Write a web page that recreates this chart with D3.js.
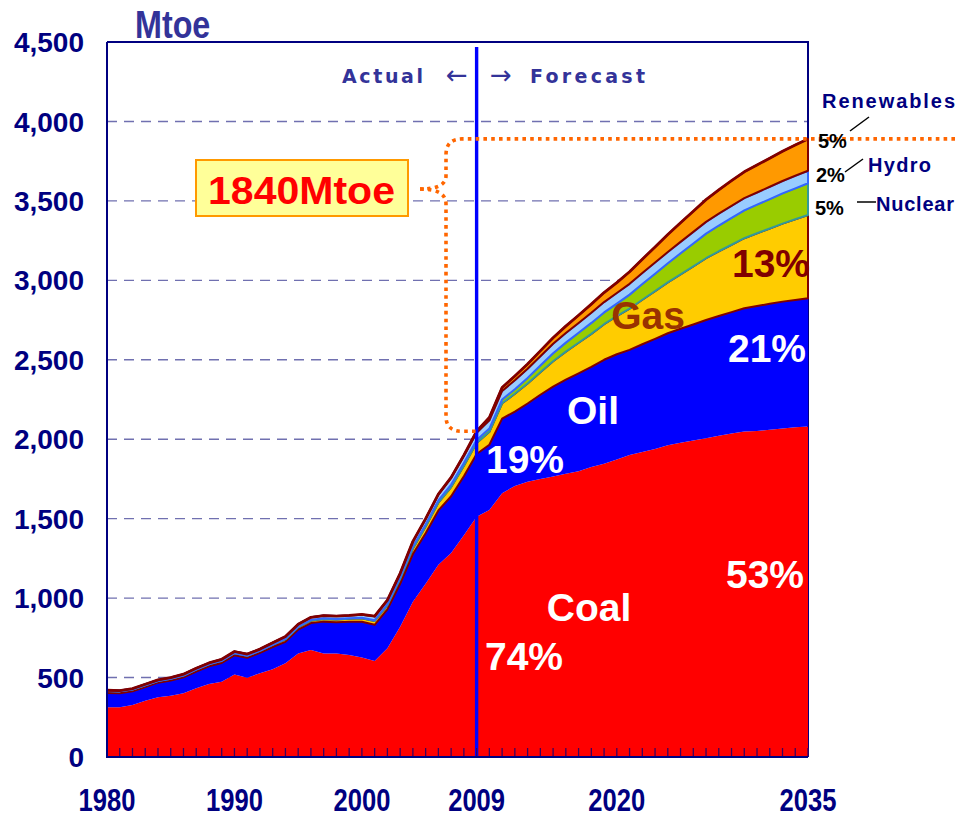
<!DOCTYPE html>
<html>
<head>
<meta charset="utf-8">
<script src="https://cdn.jsdelivr.net/npm/d3@7"></script>
<style>
  body { margin: 0; background: #ffffff; }
  svg { display: block; }
</style>
</head>
<body>
<svg id="chart" width="955" height="817"></svg>
<script>
// Primary energy demand by fuel, Mtoe (actual to 2009, projection to 2035)
const years = d3.range(1980, 2036);

const coal = [
  313, 313, 327, 354, 376, 386, 401, 432, 459, 474,
  520, 499, 527, 552, 590, 652, 673, 652, 652, 642,
  627, 604, 684, 820, 977, 1090, 1210, 1284, 1395, 1512,
  1555, 1660, 1706, 1733, 1750, 1766, 1782, 1798, 1825, 1845,
  1872, 1900, 1920, 1938, 1962, 1978, 1992, 2006, 2022, 2036,
  2048, 2052, 2060, 2068, 2075, 2080
];
const oil = [
  90, 88, 86, 87, 92, 95, 100, 106, 112, 118,
  120, 125, 128, 140, 135, 150, 170, 200, 196, 210,
  224, 228, 245, 270, 300, 318, 342, 357, 372, 395,
  410, 470, 468, 492, 530, 565, 593, 617, 630, 655,
  663, 662, 678, 694, 705, 717, 730, 744, 754, 764,
  776, 786, 792, 798, 801, 807
];
const gas = [
  12, 12, 11, 10, 10, 11, 12, 12, 12, 13,
  13, 13, 13, 14, 15, 15, 16, 17, 17, 18,
  22, 24, 26, 30, 35, 42, 49, 58, 66, 70,
  82, 96, 112, 126, 142, 160, 176, 192, 208, 224,
  240, 260, 280, 300, 320, 343, 366, 389, 407, 424,
  441, 458, 474, 491, 508, 524
];
const nuclear = [
  0, 0, 0, 0, 0, 0, 0, 0, 0, 0,
  0, 0, 0, 0, 4, 3, 4, 4, 4, 4,
  4, 5, 7, 11, 13, 14, 14, 16, 18, 18,
  20, 24, 29, 35, 42, 50, 57, 63, 69, 74,
  78, 88, 99, 110, 120, 132, 144, 155, 162, 169,
  175, 180, 185, 190, 195, 200
];
const hydro = [
  5, 5, 6, 7, 7, 8, 8, 9, 9, 10,
  11, 11, 11, 13, 14, 16, 16, 17, 18, 17,
  19, 24, 25, 24, 30, 34, 37, 41, 43, 45,
  52, 54, 56, 57, 58, 60, 61, 62, 64, 65,
  67, 68, 69, 70, 71, 72, 73, 74, 75, 76,
  77, 77, 78, 78, 79, 79
];
const renewables = [
  0, 0, 0, 0, 0, 0, 0, 0, 0, 0,
  0, 0, 0, 0, 0, 0, 0, 0, 0, 0,
  1, 1, 1, 1, 2, 2, 3, 4, 6, 10,
  18, 22, 27, 30, 34, 38, 43, 48, 54, 60,
  66, 76, 87, 98, 110, 120, 130, 140, 149, 158,
  166, 173, 180, 187, 194, 200
];

const fuelKeys = ["Coal", "Oil", "Gas", "Nuclear", "Hydro", "Renewables"];
const fuelSeries = { Coal: coal, Oil: oil, Gas: gas, Nuclear: nuclear, Hydro: hydro, Renewables: renewables };
const fuelFill = { Coal: "#ff0000", Oil: "#0000ff", Gas: "#ffcc00", Nuclear: "#99cc00", Hydro: "#99ccff", Renewables: "#ff9900" };
const fuelEdge = { Coal: null, Oil: null, Gas: "#800000", Nuclear: "#339999", Hydro: "#3366ff", Renewables: "#800000" };

const yTicks = [0, 500, 1000, 1500, 2000, 2500, 3000, 3500, 4000, 4500];
const xLabelYears = [1980, 1990, 2000, 2009, 2020, 2035];
const splitYear = 2009;
const endYear = 2035;

const rows = years.map((yr, i) => {
  const r = { year: yr };
  fuelKeys.forEach(k => { r[k] = fuelSeries[k][i]; });
  return r;
});

const svg = d3.select("#chart");
const x = d3.scaleLinear().domain([1980, 2035]).range([107, 808]);
const y = d3.scaleLinear().domain([0, 4500]).range([757, 42]);
const navy = "#000080";

// dashed grid
svg.append("g").selectAll("line")
  .data(yTicks.filter(v => v > 0 && v < 4500))
  .join("line")
  .attr("x1", x(1980)).attr("x2", x(2035))
  .attr("y1", d => y(d)).attr("y2", d => y(d))
  .attr("stroke", "#7070b0").attr("stroke-width", 1.4)
  .attr("stroke-dasharray", "10,7");

// frame: top and right edges
svg.append("path")
  .attr("d", `M${x(1980)},${y(4500)} H${x(2035)} V${y(0)}`)
  .attr("fill", "none").attr("stroke", navy).attr("stroke-width", 2);

// stacked areas
const stack = d3.stack().keys(fuelKeys);
const layers = stack(rows);
const area = d3.area()
  .x(d => x(d.data.year))
  .y0(d => y(d[0]))
  .y1(d => y(d[1]));

svg.append("g").selectAll("path")
  .data(layers)
  .join("path")
  .attr("d", area)
  .attr("fill", d => fuelFill[d.key])
  .attr("stroke", d => fuelEdge[d.key] || "none")
  .attr("stroke-width", d => fuelEdge[d.key] ? 2 : 0)
  .attr("stroke-linejoin", "round");

// total line on top
const totals = rows.map(r => fuelKeys.reduce((s, k) => s + r[k], 0));
svg.append("path")
  .datum(rows.map((r, i) => ({ year: r.year, v: totals[i] })))
  .attr("d", d3.line().x(d => x(d.year)).y(d => y(d.v)))
  .attr("fill", "none").attr("stroke", "#800000").attr("stroke-width", 2.8)
  .attr("stroke-linejoin", "round");

// actual / forecast divider
svg.append("line")
  .attr("x1", x(splitYear)).attr("x2", x(splitYear))
  .attr("y1", 47).attr("y2", y(0))
  .attr("stroke", "#0000ff").attr("stroke-width", 3.4);

// growth brace from 2009 total to 2035 total
const tSplit = totals[years.indexOf(splitYear)];
const tEnd = totals[years.indexOf(endYear)];
const yTop = y(tEnd), yBot = y(tSplit);
const bx = 446, tipX = 420, tipY = 189;
const orange = "#ff6600";
svg.append("path")
  .attr("d", `M955,${yTop} H${bx + 16} Q${bx},${yTop} ${bx},${yTop + 16} V${tipY - 13} Q${bx},${tipY} ${tipX},${tipY}`)
  .attr("fill", "none").attr("stroke", orange).attr("stroke-width", 3.6)
  .attr("stroke-dasharray", "3.6,4.2");
svg.append("path")
  .attr("d", `M${tipX},${tipY} Q${bx},${tipY} ${bx},${tipY + 15} V${yBot - 15} Q${bx},${yBot} ${bx + 16},${yBot} H${x(splitYear) + 2}`)
  .attr("fill", "none").attr("stroke", orange).attr("stroke-width", 3.6)
  .attr("stroke-dasharray", "3.6,4.2");

// growth callout box
svg.append("rect")
  .attr("x", 196).attr("y", 160).attr("width", 212).attr("height", 56)
  .attr("fill", "#ffff99").attr("stroke", "#ff9900").attr("stroke-width", 2);
svg.append("text")
  .attr("x", 208).attr("y", 204)
  .attr("textLength", 187).attr("lengthAdjust", "spacingAndGlyphs")
  .attr("font-family", "Liberation Sans, Arial, sans-serif")
  .attr("font-weight", "bold").attr("font-size", 39)
  .attr("fill", "#ff0000")
  .text(`${Math.round(tEnd - tSplit)}Mtoe`);

// year ticks along the base
svg.append("g").selectAll("line")
  .data(years)
  .join("line")
  .attr("x1", d => x(d)).attr("x2", d => x(d))
  .attr("y1", y(0)).attr("y2", y(0) - 9)
  .attr("stroke", "#3a0060").attr("stroke-width", 1.3);

// left and bottom axis lines
svg.append("path")
  .attr("d", `M${x(1980)},${y(4500)} V${y(0)} H${x(2035)}`)
  .attr("fill", "none").attr("stroke", navy).attr("stroke-width", 2);

// y tick labels
svg.append("g").selectAll("text")
  .data(yTicks)
  .join("text")
  .attr("x", 84).attr("y", d => y(d))
  .attr("dy", "0.36em")
  .attr("text-anchor", "end")
  .attr("font-family", "Liberation Sans, Arial, sans-serif")
  .attr("font-weight", "bold").attr("font-size", 28)
  .attr("fill", navy)
  .text(d => d3.format(",")(d));

// x tick labels (condensed)
svg.append("g").selectAll("text")
  .data(xLabelYears)
  .join("text")
  .attr("transform", d => `translate(${x(d)},811) scale(0.8,1)`)
  .attr("text-anchor", "middle")
  .attr("font-family", "Liberation Sans, Arial, sans-serif")
  .attr("font-weight", "bold").attr("font-size", 32)
  .attr("fill", navy)
  .text(d => d);

// unit
svg.append("text")
  .attr("transform", "translate(135,38) scale(0.85,1)")
  .attr("font-family", "Liberation Sans, Arial, sans-serif")
  .attr("font-weight", "bold").attr("font-size", 38)
  .attr("fill", "#333399")
  .text("Mtoe");

// actual / forecast caption
const capStyle = sel => sel
  .attr("font-family", "DejaVu Sans, sans-serif")
  .attr("font-weight", "bold").attr("font-size", 19)
  .attr("fill", "#333399");
svg.append("text").call(capStyle)
  .attr("x", 342).attr("y", 83)
  .attr("textLength", 81).attr("lengthAdjust", "spacing")
  .text("Actual");
svg.append("text").call(capStyle)
  .attr("x", 457).attr("y", 84).attr("text-anchor", "middle")
  .attr("font-size", 26).attr("font-weight", "normal")
  .text("←");
svg.append("text").call(capStyle)
  .attr("x", 501).attr("y", 84).attr("text-anchor", "middle")
  .attr("font-size", 26).attr("font-weight", "normal")
  .text("→");
svg.append("text").call(capStyle)
  .attr("x", 530).attr("y", 83)
  .attr("textLength", 115).attr("lengthAdjust", "spacing")
  .text("Forecast");

// shares
const iS = years.indexOf(splitYear), iE = years.indexOf(endYear);
const pct = (k, i) => `${Math.round(fuelSeries[k][i] / totals[i] * 100)}%`;
const big = (txt, px, py, color, size) => svg.append("text")
  .attr("x", px).attr("y", py)
  .attr("text-anchor", "middle")
  .attr("font-family", "Liberation Sans, Arial, sans-serif")
  .attr("font-weight", "bold").attr("font-size", size || 39)
  .attr("fill", color)
  .text(txt);

big("Coal", 589, 621, "#ffffff");
big(pct("Coal", iS), 524, 670, "#ffffff");
big(pct("Coal", iE), 765, 588, "#ffffff");
big("Oil", 593, 424, "#ffffff");
big(pct("Oil", iS), 525, 473, "#ffffff");
big(pct("Oil", iE), 767, 362, "#ffffff");
big("Gas", 648, 329, "#993300");
big(pct("Gas", iE), 771, 277, "#800000");

// right-hand labels for the smaller fuels
const small = (txt, px, py, color, len) => {
  const t = svg.append("text")
    .attr("x", px).attr("y", py)
    .attr("font-family", "Liberation Sans, Arial, sans-serif")
    .attr("font-weight", "bold").attr("font-size", 20)
    .attr("fill", color)
    .text(txt);
  if (len) t.attr("textLength", len).attr("lengthAdjust", "spacing");
  return t;
};
small("Renewables", 822, 108, navy, 133);
small(pct("Renewables", iE), 818, 148, "#000000");
small("Hydro", 868, 172, navy, 63);
small(pct("Hydro", iE), 816, 182, "#000000");
small(pct("Nuclear", iE), 815, 215, "#000000");
small("Nuclear", 876, 211, navy, 78);

const leader = (x1, y1, x2, y2) => svg.append("line")
  .attr("x1", x1).attr("y1", y1).attr("x2", x2).attr("y2", y2)
  .attr("stroke", "#000000").attr("stroke-width", 1.5);
leader(850, 131, 869, 117);
leader(845, 172, 863, 159);
leader(857, 202, 876, 202);
</script>
</body>
</html>
